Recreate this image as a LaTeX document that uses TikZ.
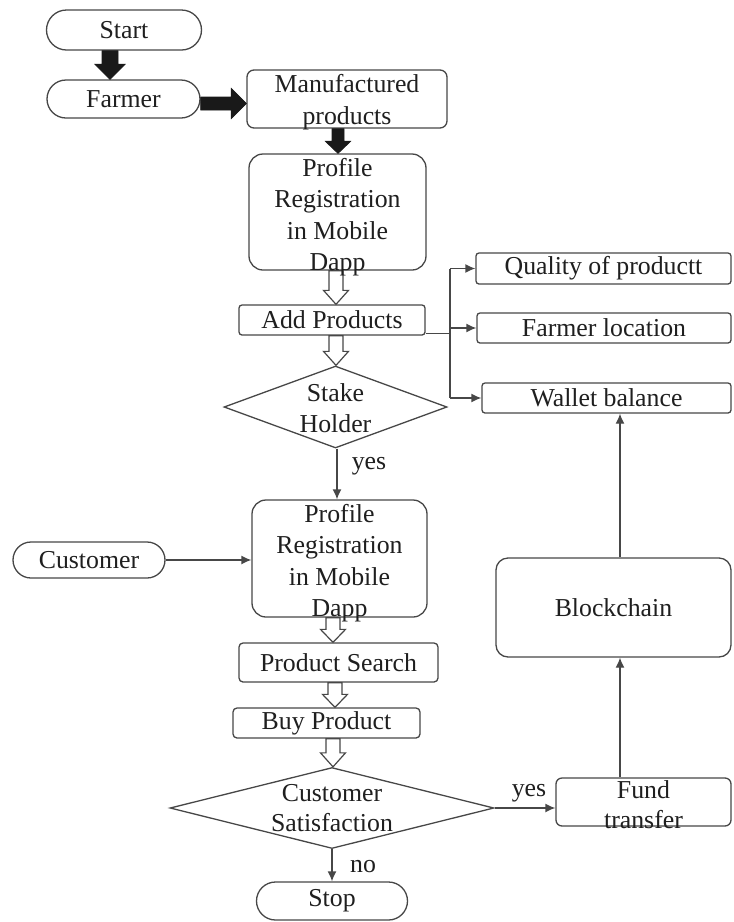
\documentclass[tikz,border=0pt]{standalone}
\usepackage{fontspec}
\setmainfont{Liberation Serif}
\newfontfamily\diagfont{Liberation Serif}
\usetikzlibrary{shapes.misc,shapes.geometric,arrows.meta,calc}
\newcommand\vblock[6]{%
 \path[#1] let \p1=(#2), \p2=(#3) in
 ({\x1-#4pt},\y1) -- ({\x1-#4pt},{\y2+#6pt}) -- ({\x1-#5pt},{\y2+#6pt}) -- (\x1,\y2) --
 ({\x1+#5pt},{\y2+#6pt}) -- ({\x1+#4pt},{\y2+#6pt}) -- ({\x1+#4pt},\y1) -- cycle;}
\newcommand\hblock[6]{%
 \path[#1] let \p1=(#2), \p2=(#3) in
 (\x1,{\y1-#4pt}) -- ({\x2-#6pt},{\y1-#4pt}) -- ({\x2-#6pt},{\y1-#5pt}) -- (\x2,\y1) --
 ({\x2-#6pt},{\y1+#5pt}) -- ({\x2-#6pt},{\y1+#4pt}) -- (\x1,{\y1+#4pt}) -- cycle;}
\begin{document}
\begin{tikzpicture}[x=1pt,y=-1pt,
  every node/.style={font=\diagfont\fontsize{25.8}{31.5}\selectfont, text=black!88, inner sep=0pt},
  ln/.style={draw=black!72, line width=1.3pt},
  pill/.style={ln, rounded rectangle, fill=white},
  rbox/.style={ln, rectangle, rounded corners=#1, fill=white},
  rbox/.default=4pt,
  dia/.style={ln, diamond, fill=white},
  conn/.style={ln, -{Latex[length=10pt,width=9pt]}},
  solidarrow/.style={fill=black!90, draw=black!90, line width=0.8pt},
  hollowarrow/.style={fill=white, draw=black!72, line width=1.2pt},
  twoline/.style={align=center, font=\diagfont\fontsize{25.8}{30}\selectfont}]
\useasboundingbox (0,0) rectangle (734,922);

% left/centre column
\node[pill, minimum width=155pt, minimum height=40pt] (start) at (124,30) {Start};
\node[pill, minimum width=153pt, minimum height=38pt] (farmer) at (123.5,99) {Farmer};
\node[rbox=7pt, minimum width=200pt, minimum height=58pt] (manu) at (347,99) {};
\node[rbox=14pt, minimum width=177pt, minimum height=116pt] (prof1) at (337.5,212) {};
\node[rbox=3pt, minimum width=186pt, minimum height=30pt] (add) at (332,320) {Add Products};
\node[dia, minimum width=223pt, minimum height=82pt] (stake) at (335.5,407) {};
\node[rbox=14pt, minimum width=175pt, minimum height=117pt] (prof2) at (339.5,558.5) {};
\node[pill, minimum width=152pt, minimum height=36pt] (cust) at (89,560) {Customer};
\node[rbox=4pt, minimum width=199pt, minimum height=39pt] (search) at (338.5,662.5) {Product Search};
\node[rbox=4pt, minimum width=187pt, minimum height=30pt] (buy) at (326.5,723) {Buy Product};
\node[dia, minimum width=324pt, minimum height=81pt] (sat) at (332,808) {};
\node[pill, minimum width=151pt, minimum height=38pt] (stop) at (332,901) {Stop};

% right column
\node[rbox=3pt, minimum width=255pt, minimum height=31pt] (qual) at (603.5,268.5) {Quality of productt};
\node[rbox=3pt, minimum width=254pt, minimum height=30pt] (floc) at (604,328) {Farmer location};
\node[rbox=3pt, minimum width=249pt, minimum height=30pt] (wallet) at (606.5,398) {Wallet balance};
\node[rbox=12pt, minimum width=235pt, minimum height=99pt] (block) at (613.5,607.5) {Blockchain};
\node[rbox=6pt, minimum width=175pt, minimum height=48pt] (fund) at (643.5,802) {};

% block arrows
\vblock{solidarrow}{$(start.south)+(-14,0)$}{$(farmer.north)+(-14,0)$}{8}{15}{15}
\hblock{solidarrow}{$(farmer.east)+(0,4.5)$}{manu.west}{6.5}{15}{15}
\vblock{solidarrow}{$(manu.south)+(-9,0)$}{prof1.north}{6}{12.5}{12}
\vblock{hollowarrow}{$(prof1.south)+(-1.5,0)$}{add.north}{7}{12.5}{14}
\vblock{hollowarrow}{$(add.south)+(4,0)$}{stake.north}{7}{12.5}{14}
\vblock{hollowarrow}{$(prof2.south)+(-6.5,0)$}{search.north}{7}{12.5}{13}
\vblock{hollowarrow}{$(search.south)+(-3.5,0)$}{buy.north}{7}{12.5}{13}
\vblock{hollowarrow}{$(buy.south)+(6.5,0)$}{sat.north}{7}{12.5}{14}

% texts of boxes whose text overflows
\node[align=center] (manut) at (347,102) {Manufactured\\products};
\node[align=center] (prof1t) at (337.5,217) {Profile\\Registration\\in Mobile\\Dapp};
\node[align=center] (staket) at (335.5,408) {Stake\\Holder};
\node[align=center] (prof2t) at (339.5,563) {Profile\\Registration\\in Mobile\\Dapp};
\node[twoline] (satt) at (332,808) {Customer\\Satisfaction};
\node[twoline] (fundt) at (643.5,805) {Fund\\transfer};

% connectors
\coordinate (br) at (450,0);
\coordinate (vx) at (620,0);
\coordinate (sx) at (337,0);
\draw[ln] ($(add.south east)+(0,-2)$) -- (br |- {$(add.south east)+(0,-2)$});
\draw[ln] (br |- qual.west) -- (br |- wallet.west);
\draw[conn] (br |- qual.west) -- (qual.west);
\draw[conn] (br |- floc.west) -- (floc.west);
\draw[conn] (br |- wallet.west) -- (wallet.west);

\draw[conn] (sx |- stake.south) -- (sx |- prof2.north);
\node (yes1) at (369,466) {yes};
\draw[conn] (cust.east) -- (cust.east -| prof2.west);
\draw[conn] (sat.east) -- (sat.east -| fund.west);
\node (yes2) at (529,793) {yes};
\draw[conn] (sat.south) -- (stop.north);
\node (no) at (363,867) {no};
\draw[conn] (vx |- fund.north) -- (vx |- block.south);
\draw[conn] (vx |- block.north) -- (vx |- wallet.south);
\end{tikzpicture}
\end{document}
